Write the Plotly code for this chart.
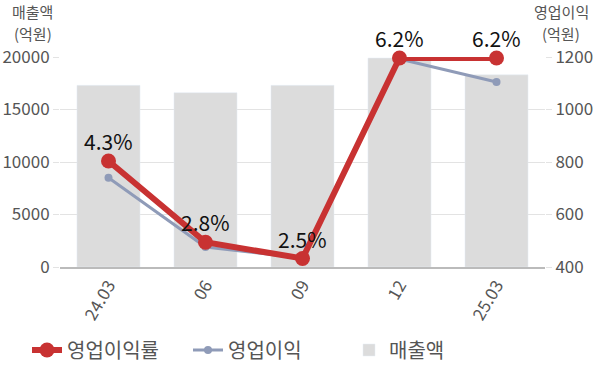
import plotly.graph_objects as go

categories = ["24.03", "06", "09", "12", "25.03"]
sales = [17300, 16600, 17300, 19900, 18300]
op_income = [740, 476, 434, 1192, 1105]
op_margin = [4.3, 2.8, 2.5, 6.2, 6.2]
margin_labels = ["4.3%", "2.8%", "2.5%", "6.2%", "6.2%"]

FONT = "Noto Sans CJK KR"
fig = go.Figure()
fig.add_trace(go.Scatter(x=categories, y=op_margin, name="영업이익률", mode="lines+markers",
                         line=dict(color="#c83232", width=6), marker=dict(size=15),
                         yaxis="y3", legendrank=1, cliponaxis=False))
fig.add_trace(go.Scatter(x=categories, y=op_income, name="영업이익", mode="lines+markers",
                         line=dict(color="#8f9bb8", width=3), marker=dict(size=8),
                         yaxis="y2", legendrank=2, cliponaxis=False))
fig.add_trace(go.Bar(x=categories, y=sales, name="매출액", marker_color="#dcdcdc",
                     yaxis="y", legendrank=3))

# category axis: annotation x given as category index
annotations = [
    dict(x=i, y=v, xref="x", yref="y3", text=t, showarrow=False,
         yanchor="middle", yshift=20, font=dict(size=21, color="#111"))
    for i, (v, t) in enumerate(zip(op_margin, margin_labels))
]
title_font = dict(size=15, color="#555")
for text, x, ys in [("매출액", -0.056, 46), ("(억원)", -0.056, 24),
                    ("영업이익", 1.033, 46), ("(억원)", 1.033, 24)]:
    annotations.append(dict(text=text, xref="paper", yref="paper", x=x, y=1.0,
                            xanchor="center", yanchor="middle", showarrow=False,
                            font=title_font, yshift=ys))

fig.update_layout(
    width=600, height=383,
    margin=dict(l=60, r=55, t=57, b=116),
    plot_bgcolor="white", paper_bgcolor="white",
    font=dict(family=FONT, color="#555", size=17),
    bargap=0.35,
    showlegend=True,
    legend=dict(orientation="h", xref="container", yref="container",
                x=0.045, xanchor="left", y=1 - 350 / 383, yanchor="middle",
                font=dict(size=20, color="#555"), traceorder="normal",
                entrywidth=116),
    xaxis=dict(type="category", categoryorder="array", categoryarray=categories,
               range=[-0.5, len(categories) - 0.5],
               tickangle=-60, showline=True, linecolor="#bbb", linewidth=1.5,
               automargin=False, tickfont=dict(size=17, color="#555")),
    yaxis=dict(range=[0, 20000], dtick=5000, tickformat="d", showgrid=True, gridcolor="#e3e3e3",
               ticks="outside", ticklen=6, tickcolor="#e3e3e3", zeroline=False,
               automargin=False, tickfont=dict(size=17, color="#555")),
    yaxis2=dict(range=[400, 1200], dtick=200, tickformat="d", overlaying="y", side="right",
                showgrid=False, ticks="outside", ticklen=6, tickcolor="#e3e3e3",
                zeroline=False, automargin=False, tickfont=dict(size=17, color="#555")),
    yaxis3=dict(range=[2.344, 6.218], overlaying="y", visible=False),
    annotations=annotations,
)
fig.write_html("out.html", config={"displayModeBar": False},
               post_script="document.body.style.margin='0';")
